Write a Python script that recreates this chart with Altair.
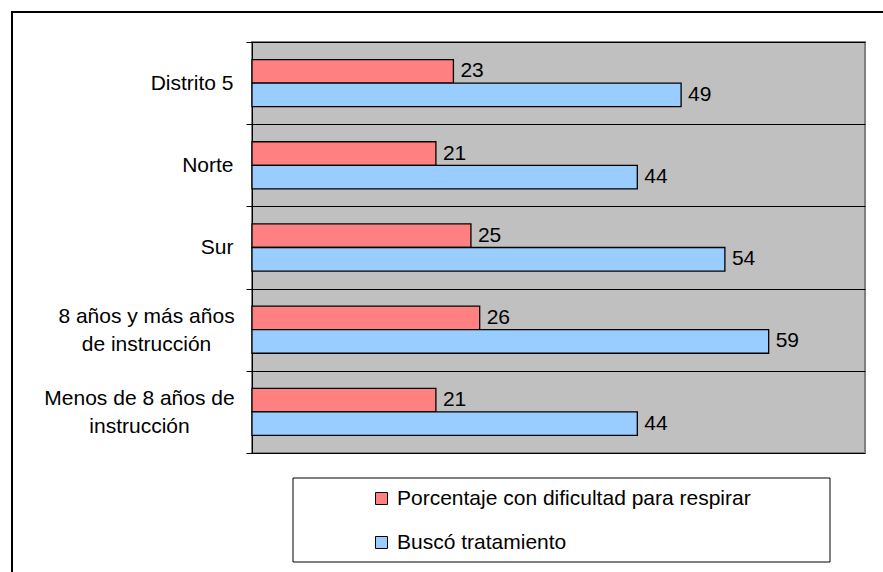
import json
import altair as alt
import pandas as pd

# Categories (top to bottom) and the lines each axis label is broken into
categorias = [
    "Distrito 5",
    "Norte",
    "Sur",
    "8 años y más años de instrucción",
    "Menos de 8 años de instrucción",
]
lineas = [
    ["Distrito 5"],
    ["Norte"],
    ["Sur"],
    ["8 años y más años", "de instrucción"],
    ["Menos de 8 años de", "instrucción"],
]
dificultad = [23, 21, 25, 26, 21]
tratamiento = [49, 44, 54, 59, 44]
series = ["Porcentaje con dificultad para respirar", "Buscó tratamiento"]
colores = ["#FF8080", "#99CCFF"]

rows = []
for cat, a, b in zip(categorias, dificultad, tratamiento):
    rows.append({"categoria": cat, "serie": series[0], "valor": a})
    rows.append({"categoria": cat, "serie": series[1], "valor": b})
df = pd.DataFrame(rows)


def q(s):
    return json.dumps(s, ensure_ascii=False)


# Multi-line axis labels
label_expr = "datum.label"
for cat, ls in reversed(list(zip(categorias, lineas))):
    if len(ls) > 1:
        label_expr = f"datum.value === {q(cat)} ? {q(ls)} : {label_expr}"

multi = [c for c, ls in zip(categorias, lineas) if len(ls) > 1]
is_multi = " || ".join(f"datum.value === {q(c)}" for c in multi)

FONT = "Liberation Sans"
FS = 21
W, H = 613, 411

y_enc = alt.Y(
    "categoria:N",
    sort=categorias,
    scale=alt.Scale(paddingInner=0, paddingOuter=0),
    axis=alt.Axis(
        title=None,
        labelExpr=label_expr,
        tickBand="extent",
        grid=True,
        gridColor="black",
        gridWidth=1,
        domainColor="black",
        domainWidth=1,
        tickColor="black",
        tickSize=6,
        # two-line labels are centred as a block, single-line ones right-aligned
        labelAlign={"condition": {"test": is_multi, "value": "center"}, "value": "right"},
        labelPadding={
            "condition": [
                {"test": f"datum.value === {q(multi[0])}", "value": 100},
                {"test": f"datum.value === {q(multi[1])}", "value": 107},
            ],
            "value": 13,
        },
        labelOffset={"condition": {"test": is_multi, "value": -13}, "value": 0},
        labelFont=FONT,
        labelFontSize=FS,
        labelColor="black",
        labelLineHeight=28,
        labelLimit=300,
    ),
)
yoff_enc = alt.YOffset(
    "serie:N", sort=series, scale=alt.Scale(domain=series, paddingOuter=0.745, paddingInner=0)
)
x_enc = alt.X("valor:Q", scale=alt.Scale(domain=[0, 70], nice=False, zero=True), axis=None)
color_enc = alt.Color(
    "serie:N",
    sort=series,
    scale=alt.Scale(domain=series, range=colores),
    legend=alt.Legend(
        title=None,
        orient="none",
        legendX=119,
        legendY=446,
        padding=0,
        symbolType="square",
        symbolSize=144,
        symbolStrokeColor="black",
        symbolStrokeWidth=1,
        symbolOpacity=1,
        labelFont=FONT,
        labelFontSize=FS,
        labelColor="black",
        labelOffset=5,
        labelLimit=500,
        rowPadding=22,
    ),
)

one = pd.DataFrame({"k": [0]})

# Outer chart frame
frame = alt.Chart(one).mark_rect(
    fill="transparent", stroke="black", strokeWidth=2
).encode(
    x=alt.value(-240), x2=alt.value(W + 100), y=alt.value(-30), y2=alt.value(H + 200)
)

# Legend box
legend_box = alt.Chart(one).mark_rect(
    fill="white", stroke="black", strokeWidth=1
).encode(
    x=alt.value(41), x2=alt.value(578), y=alt.value(436), y2=alt.value(520)
)

bars = alt.Chart(df).mark_bar(stroke="black", strokeWidth=1.3).encode(
    x=x_enc, y=y_enc, yOffset=yoff_enc, color=color_enc
)

labels = alt.Chart(df).mark_text(
    align="left", baseline="middle", dx=7, font=FONT, fontSize=FS, color="black"
).encode(x=x_enc, y=y_enc, yOffset=yoff_enc, text="valor:Q")

chart = (
    alt.layer(frame, legend_box, bars, labels)
    .properties(
        width=W,
        height=H,
        autosize=alt.AutoSizeParams(type="none"),
        padding={"left": 252, "top": 42, "right": 18, "bottom": 119},
    )
    .configure(background="white")
    .configure_view(fill="#C0C0C0", stroke="#808080", strokeWidth=2)
)

chart.save("out.html", embed_options={"renderer": "svg", "actions": False})
